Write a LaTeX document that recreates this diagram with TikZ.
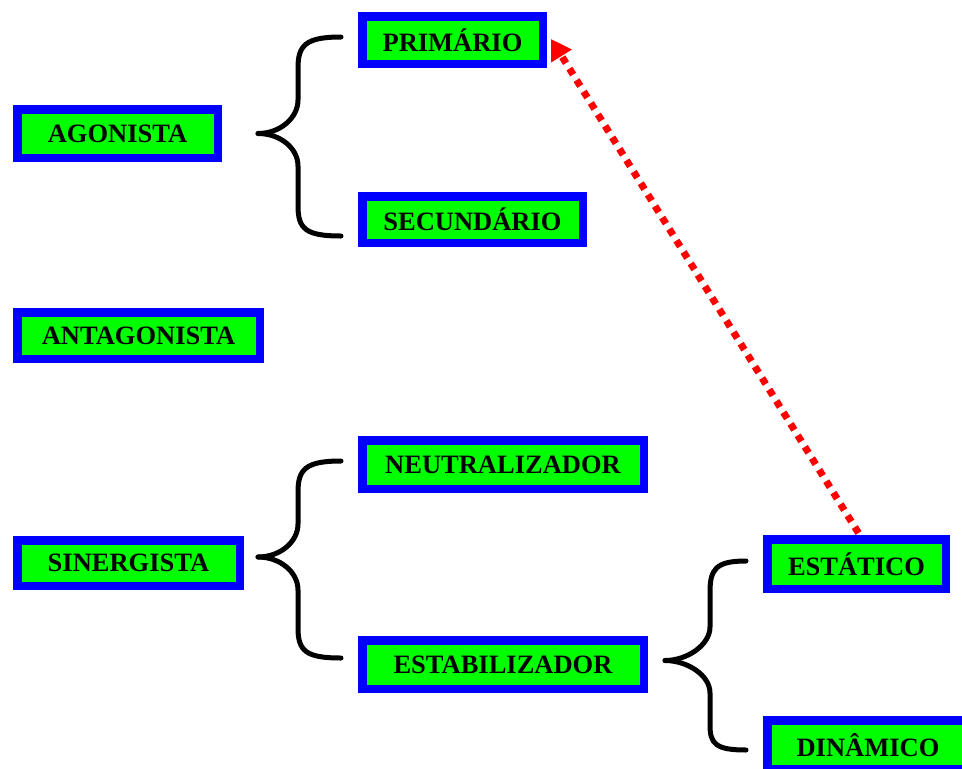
\documentclass[tikz,border=0pt]{standalone}
\usepackage{fontspec}
\setmainfont{Liberation Serif}
\usetikzlibrary{arrows.meta,calc}
\definecolor{boxgreen}{HTML}{00FF00}
\definecolor{boxblue}{HTML}{0000FF}
\definecolor{arrred}{HTML}{FF0000}
\tikzset{
  mbox/.style={rectangle, draw=boxblue, line width=8.5pt, fill=boxgreen, inner sep=0pt,
    font=\fontsize{26.5}{30}\selectfont\bfseries, text=black, text depth=0pt},
  brace/.style={line width=5pt, line cap=round, black},
  dotarrow/.style={arrred, line width=7pt, dash pattern=on 7pt off 6.5pt,
    -{Triangle[length=20pt,width=23pt]}}
}
\begin{document}
\begin{tikzpicture}[x=1pt,y=-1pt]
\clip (0,0) rectangle (962,769);
\useasboundingbox (0,0) rectangle (962,769);
\fill[white] (0,0) rectangle (962,769);

\node[mbox, minimum width=180.5pt, minimum height=47.5pt] (prim) at (452.5,40) {PRIMÁRIO};
\node[mbox, minimum width=200.5pt, minimum height=48.5pt] (agon) at (117.5,133.5) {AGONISTA};
\node[mbox, minimum width=220.5pt, minimum height=46.5pt] (secu) at (472.5,219.5) {SECUNDÁRIO};
\node[mbox, minimum width=242.5pt, minimum height=46.5pt] (anta) at (138.5,335.5) {ANTAGONISTA};
\node[mbox, minimum width=281.5pt, minimum height=48.5pt] (neut) at (503,464.5) {NEUTRALIZADOR};
\node[mbox, minimum width=222.5pt, minimum height=45.5pt] (sine) at (128.5,563) {SINERGISTA};
\node[mbox, minimum width=281.5pt, minimum height=48.5pt] (esta) at (503,664.5) {ESTABILIZADOR};
\node[mbox, minimum width=178.5pt, minimum height=49.5pt] (estt) at (856.5,564) {ESTÁTICO};
\node[mbox, minimum width=201.5pt, minimum height=48.5pt] (dina) at (868,744.5) {DINÂMICO};

% braces
\coordinate (b1) at ($(agon.east)+(36,0)$);
\draw[brace] (b1) .. controls +(22,0) and (298,118) .. (298,100) -- (298,68)
  .. controls (298,45) and (306,37) .. (341,37);
\draw[brace] (b1) .. controls +(22,0) and (298,148) .. (298,166) -- (298,206)
  .. controls (298,229) and (306,236) .. (341,236);

\coordinate (b2) at ($(sine.east)+(14,-6)$);
\draw[brace] (b2) .. controls +(22,0) and (298,542) .. (298,524) -- (298,492)
  .. controls (298,469) and (306,461) .. (341,461);
\draw[brace] (b2) .. controls +(22,0) and (298,572) .. (298,590) -- (298,628)
  .. controls (298,651) and (306,658) .. (341,658);

\coordinate (b3) at ($(esta.east)+(17,-4)$);
\draw[brace] (b3) .. controls +(22,0) and (710,645) .. (710,627) -- (710,592)
  .. controls (710,569) and (716,561) .. (746,561);
\draw[brace] (b3) .. controls +(22,0) and (710,675) .. (710,693) -- (710,725)
  .. controls (710,744) and (716,750) .. (746,750);

% red dotted arrow
\draw[dotarrow] ($(estt.north)+(2,-2)$) -- ($(prim.east)+(4,-1)$);
\end{tikzpicture}
\end{document}
